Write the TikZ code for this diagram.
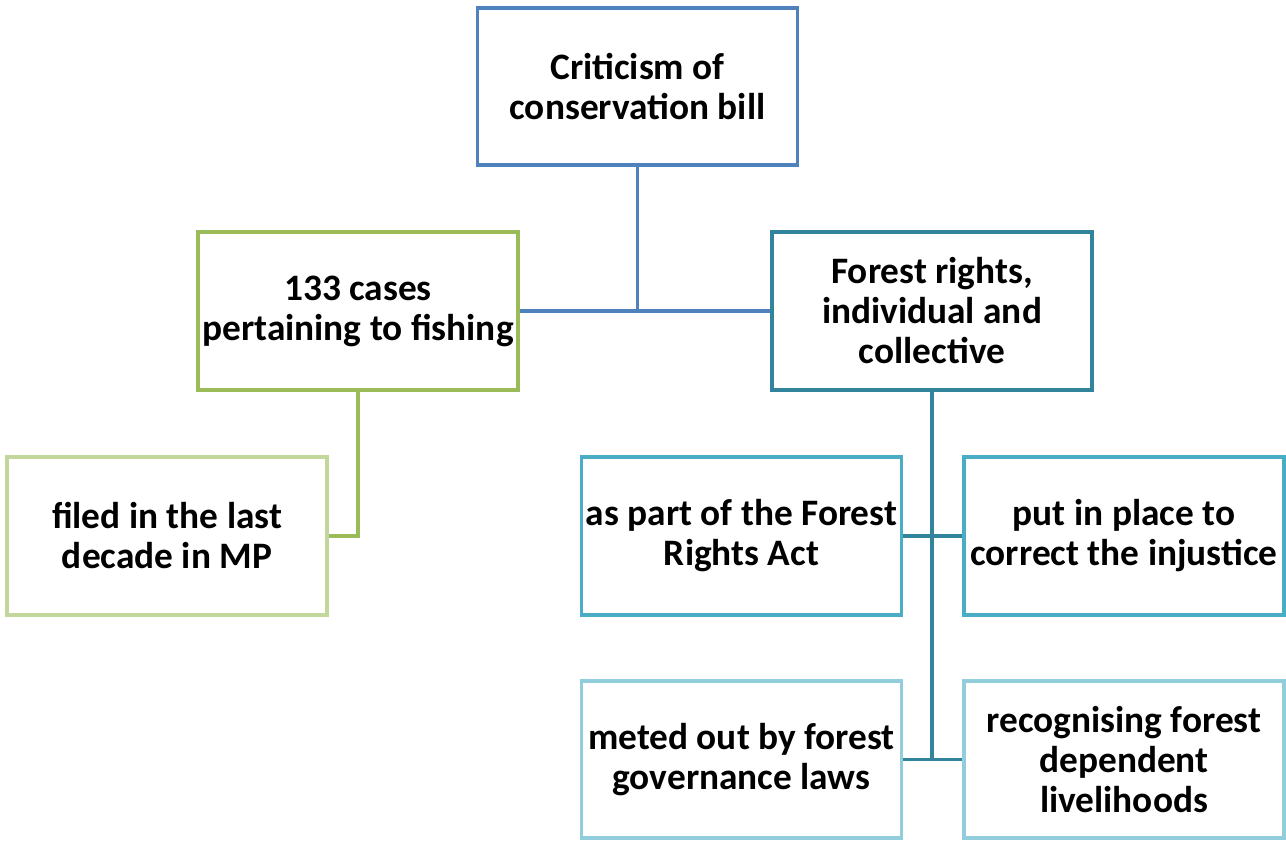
\documentclass[tikz,border=0pt]{standalone}
\usepackage{fontspec}
\setmainfont{Carlito}
\definecolor{cblue}{HTML}{4F81BD}
\definecolor{cgreen}{HTML}{9BBB59}
\definecolor{clgreen}{HTML}{C3D69B}
\definecolor{cteal}{HTML}{31849B}
\definecolor{caqua}{HTML}{4BACC6}
\definecolor{claqua}{HTML}{92CDDC}
\begin{document}
\begin{tikzpicture}[x=0.75pt,y=-0.75pt,
  box/.style={draw, line width=2.8pt, rectangle, fill=white, minimum width=240pt, minimum height=118pt,
    inner sep=0pt, align=center, font=\fontsize{28}{30}\selectfont\bfseries},
  conn/.style={line width=2.8pt}]
\useasboundingbox (0,0) rectangle (1286,840);
\node[box, draw=cblue] (top) at (637.5,86.5) {Criticism of\\conservation bill};
\node[box, draw=cgreen] (cases) at (358,311) {133 cases\\pertaining to fishing};
\node[box, draw=cteal] (rights) at (932,311) {Forest rights,\\individual and\\collective};
\node[box, draw=clgreen] (filed) at (167,536) {filed in the last\\decade in MP};
\node[box, draw=caqua] (aspart) at (741.5,536) {as part of the Forest\\Rights Act};
\node[box, draw=caqua] (put) at (1124,536) {put in place to\\correct the injustice};
\node[box, draw=claqua] (meted) at (741.5,759.5) {meted out by forest\\governance laws};
\node[box, draw=claqua] (recog) at (1124,759.5) {recognising forest\\dependent\\livelihoods};
\draw[conn, cblue] (top.south) -- (top.south |- cases.east);
\draw[conn, cblue] (cases.east) -- (rights.west);
\draw[conn, cgreen] (cases.south) |- (filed.east);
\draw[conn, cteal] (rights.south) -- (rights.south |- meted.east);
\draw[conn, cteal] (aspart.east) -- (put.west);
\draw[conn, cteal] (meted.east) -- (recog.west);
\end{tikzpicture}
\end{document}
